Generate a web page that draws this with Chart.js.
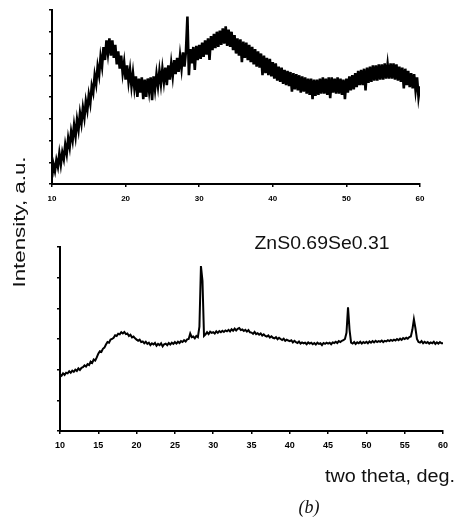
<!DOCTYPE html>
<html>
<head>
<meta charset="utf-8">
<script src="https://cdn.jsdelivr.net/npm/chart.js@4.4.1/dist/chart.umd.min.js"></script>
<style>
  html,body{margin:0;padding:0;background:#fff;}
  #wrap{position:relative;width:461px;height:518px;overflow:hidden;}
  canvas{position:absolute;left:0;top:0;}
</style>
</head>
<body>
<div id="wrap">
  <canvas id="c1" width="461" height="518"></canvas>
  <canvas id="c2" width="461" height="518"></canvas>
</div>
<script>
// ---- sampling grid (two theta, deg.) ----
const theta0 = 10;
const thetaStep = 0.2;

// ---- top pattern (a.u.), one value per 0.2 deg from 10 to 60 ----
const topIntensity = [
  0.3,0.9,0.6,1.1,0.8,        // 10
  1.4,0.9,1.45,1.15,1.8,      // 11
  1.4,2.1,1.7,2.4,2.0,        // 12
  2.7,2.2,2.95,2.5,3.25,      // 13
  2.8,3.5,3.05,3.8,3.4,       // 14
  4.1,3.7,4.5,4.2,5.0,        // 15
  4.6,5.4,5.0,5.85,5.4,       // 16
  6.3,5.7,6.6,6.0,6.7,        // 17
  5.9,6.6,5.8,6.4,5.5,        // 18
  6.1,5.3,5.9,5.1,5.6,        // 19
  4.8,5.45,4.7,5.25,4.5,      // 20
  5.1,4.4,4.95,4.0,4.85,      // 21
  4.2,4.9,3.9,4.8,4.0,        // 22
  4.85,4.25,4.9,3.85,4.95,    // 23
  4.35,5.05,4.5,5.2,4.6,      // 24
  5.3,4.7,5.35,4.55,5.45,     // 25
  4.8,5.55,4.95,5.7,5.05,     // 26
  5.8,5.15,5.9,5.3,6.05,      // 27
  5.4,6.1,7.7,5.0,6.2,        // 28
  5.55,6.3,5.25,6.35,5.7,     // 29
  6.4,5.75,6.5,5.85,6.6,      // 30
  5.95,6.7,5.7,6.8,6.15,      // 31
  6.9,6.25,7.0,6.3,7.05,      // 32
  6.4,7.15,6.45,7.25,6.35,    // 33
  7.1,6.3,7.0,6.15,6.85,      // 34
  6.0,6.7,5.9,6.65,5.6,       // 35
  6.55,5.8,6.5,5.7,6.4,       // 36
  5.6,6.3,5.5,6.2,5.4,        // 37
  6.1,5.35,6.0,5.0,5.9,       // 38
  5.1,5.8,5.0,5.75,4.95,      // 39
  5.6,4.85,5.55,4.75,5.4,     // 40
  4.7,5.35,4.6,5.25,4.55,     // 41
  5.2,4.5,5.15,4.25,5.1,      // 42
  4.35,5.05,4.3,5.0,4.2,      // 43
  4.95,4.25,4.9,4.15,4.85,    // 44
  4.1,4.85,3.9,4.8,4.05,      // 45
  4.8,4.1,4.85,4.15,4.9,      // 46
  4.15,4.85,4.1,4.9,3.95,     // 47
  4.9,4.2,4.85,4.15,4.9,      // 48
  4.15,4.85,4.1,4.8,3.9,      // 49
  4.85,4.2,4.95,4.3,5.0,      // 50
  4.35,5.1,4.45,5.2,4.55,     // 51
  5.25,4.55,5.3,4.3,5.35,     // 52
  4.65,5.4,4.7,5.45,4.75,     // 53
  5.45,4.75,5.5,4.8,5.5,      // 54
  4.8,5.55,4.85,5.5,4.85,     // 55
  5.55,4.85,5.55,4.8,5.5,     // 56
  4.75,5.4,4.7,5.35,4.4,      // 57
  5.3,4.55,5.2,4.45,5.1,      // 58
  4.4,5.05,4.3,4.9,4.0,       // 59
  4.5                         // 60
];

// ---- bottom pattern ZnS0.69Se0.31 (a.u.), one value per 0.2 deg ----
const bottomIntensity = [
  1.84,1.80,1.88,1.83,1.90,   // 10
  1.88,1.95,1.90,1.97,1.93,   // 11
  2.00,1.96,2.04,1.99,2.06,   // 12
  2.08,2.14,2.10,2.18,2.15,   // 13
  2.26,2.22,2.33,2.30,2.40,   // 14
  2.52,2.60,2.58,2.68,2.72,   // 15
  2.82,2.90,2.88,2.98,3.00,   // 16
  3.04,3.12,3.10,3.17,3.15,   // 17
  3.22,3.18,3.23,3.16,3.18,   // 18
  3.10,3.14,3.05,3.08,3.02,   // 19
  2.98,2.94,2.98,2.90,2.92,   // 20
  2.86,2.91,2.84,2.88,2.80,   // 21
  2.86,2.82,2.87,2.78,2.84,   // 22
  2.80,2.86,2.76,2.83,2.85,   // 23
  2.80,2.87,2.82,2.88,2.84,   // 24
  2.90,2.85,2.91,2.87,2.93,   // 25
  2.90,2.96,2.92,2.99,3.00,   // 26
  3.18,3.06,3.08,3.02,3.10,   // 27
  3.06,3.40,5.38,4.90,3.10,   // 28
  3.15,3.22,3.16,3.24,3.20,   // 29
  3.22,3.18,3.25,3.20,3.26,   // 30
  3.22,3.27,3.23,3.28,3.25,   // 31
  3.30,3.25,3.32,3.27,3.34,   // 32
  3.28,3.33,3.36,3.29,3.31,   // 33
  3.26,3.30,3.24,3.29,3.22,   // 34
  3.21,3.17,3.23,3.16,3.19,   // 35
  3.14,3.18,3.11,3.15,3.10,   // 36
  3.08,3.12,3.05,3.09,3.04,   // 37
  3.02,3.06,2.99,3.04,3.00,   // 38
  2.97,3.01,2.94,2.98,2.95,   // 39
  2.93,2.96,2.89,2.94,2.90,   // 40
  2.87,2.92,2.85,2.89,2.86,   // 41
  2.88,2.83,2.89,2.85,2.88,   // 42
  2.83,2.87,2.82,2.88,2.84,   // 43
  2.86,2.80,2.87,2.84,2.88,   // 44
  2.85,2.88,2.83,2.89,2.87,   // 45
  2.91,2.87,2.93,2.90,2.94,   // 46
  2.96,3.00,3.20,4.03,3.30,   // 47
  2.88,2.85,2.90,2.84,2.89,   // 48
  2.86,2.91,2.85,2.90,2.87,   // 49
  2.91,2.86,2.92,2.88,2.93,   // 50
  2.89,2.94,2.90,2.93,2.91,   // 51
  2.95,2.90,2.94,2.92,2.96,   // 52
  2.93,2.97,2.94,2.98,2.95,   // 53
  3.00,2.96,3.01,2.97,3.03,   // 54
  3.00,3.04,3.01,3.06,3.08,   // 55
  3.30,3.64,3.35,3.00,2.90,   // 56
  2.88,2.93,2.86,2.91,2.87,   // 57
  2.90,2.85,2.89,2.86,2.91,   // 58
  2.84,2.89,2.85,2.90,2.86,   // 59
  2.86                        // 60
];

// ---- tick values ----
const topXTicks = [10, 20, 30, 40, 50, 60];
const topYTicks = [0, 1, 2, 3, 4, 5, 6, 7, 8];
const bottomXTicks = [10, 15, 20, 25, 30, 35, 40, 45, 50, 55, 60];
const bottomYTicks = [0, 1, 2, 3, 4, 5, 6];

// ---- labels ----
const yTitle = 'Intensity, a.u.';
const sampleName = 'ZnS0.69Se0.31';
const xTitle = 'two theta, deg.';
const panelTag = '(b)';

function toPoints(arr) {
  return arr.map((v, i) => ({ x: +(theta0 + i * thetaStep).toFixed(2), y: v }));
}

function axisX(ticksArr, fontSize, pad, h) {
  return {
    type: 'linear',
    min: ticksArr[0], max: ticksArr[ticksArr.length - 1],
    afterBuildTicks: s => { s.ticks = ticksArr.map(v => ({ value: v })); },
    afterFit: s => { s.height = h; },
    border: { display: true, color: '#000', width: 2 },
    grid: { display: true, drawOnChartArea: false, drawTicks: true, tickLength: 3, color: '#000', lineWidth: 1.5 },
    ticks: { color: '#000', padding: pad, font: { family: 'Liberation Sans', size: fontSize, weight: 'bold' }, maxRotation: 0, autoSkip: false }
  };
}
function axisY(ticksArr, w) {
  return {
    type: 'linear',
    min: ticksArr[0], max: ticksArr[ticksArr.length - 1],
    afterBuildTicks: s => { s.ticks = ticksArr.map(v => ({ value: v })); },
    afterFit: s => { s.width = w; },
    border: { display: true, color: '#000', width: 2 },
    grid: { display: true, drawOnChartArea: false, drawTicks: true, tickLength: 3, color: '#000', lineWidth: 1.5 },
    ticks: { display: false }
  };
}

function lineDataset(arr, bw) {
  return {
    data: toPoints(arr),
    borderColor: '#000', borderWidth: bw,
    pointRadius: 0, tension: 0, fill: false
  };
}

const common = {
  responsive: false, animation: false, devicePixelRatio: 1,
  plugins: { legend: { display: false }, tooltip: { enabled: false } }
};

new Chart(document.getElementById('c1'), {
  type: 'line',
  data: { datasets: [lineDataset(topIntensity, 2.6)] },
  options: Object.assign({}, common, {
    layout: { padding: { left: 0, top: 10, right: 41, bottom: 304 } },
    scales: { x: axisX(topXTicks, 8, 7, 30), y: axisY(topYTicks, 52) }
  })
});

function fitText(ctx, text, font, cx, cy, w, rot) {
  ctx.save();
  ctx.font = font;
  const m = ctx.measureText(text).width;
  ctx.translate(cx, cy);
  if (rot) ctx.rotate(rot);
  if (w) ctx.scale(w / m, 1);
  ctx.textAlign = 'center';
  ctx.textBaseline = 'middle';
  ctx.fillStyle = '#111';
  ctx.fillText(text, 0, 0);
  ctx.restore();
}

const textPlugin = {
  id: 'texts',
  afterDraw(chart) {
    const ctx = chart.ctx;
    fitText(ctx, yTitle, '16px "Liberation Sans"', 21, 222, 131, -Math.PI / 2);
    fitText(ctx, sampleName, '18px "Liberation Sans"', 322, 244, 135, 0);
    fitText(ctx, xTitle, '18px "Liberation Sans"', 390, 477, 130, 0);
    fitText(ctx, panelTag, 'italic 18px "Liberation Serif"', 309, 508, 0, 0);
  }
};

new Chart(document.getElementById('c2'), {
  type: 'line',
  data: { datasets: [lineDataset(bottomIntensity, 2)] },
  options: Object.assign({}, common, {
    layout: { padding: { left: 0, top: 247, right: 18, bottom: 57 } },
    scales: { x: axisX(bottomXTicks, 9, 6, 30), y: axisY(bottomYTicks, 60) }
  }),
  plugins: [textPlugin]
});
</script>
</body>
</html>
